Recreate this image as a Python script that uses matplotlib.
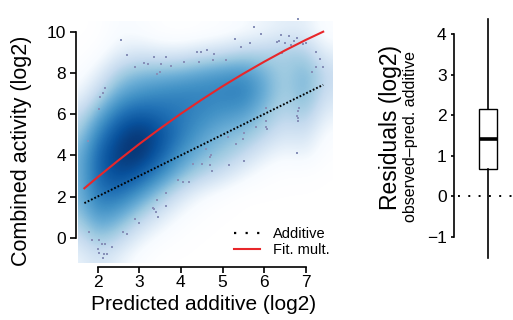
import numpy as np
import matplotlib
matplotlib.use('Agg')
import matplotlib.pyplot as plt
from matplotlib.colors import LinearSegmentedColormap
from matplotlib.lines import Line2D

plt.rcParams['font.family'] = ['Liberation Sans', 'DejaVu Sans']

# smoothed density (0 = white, 1 = darkest blue)
dens_x = [1.5, 2.0, 2.5, 3.0, 3.5, 4.0, 4.5, 5.0, 5.5, 6.0, 6.5, 7.0, 7.5]
dens_y = [-1, 0, 1, 2, 3, 4, 5, 6, 7, 8, 9, 10]
dens = [
    [0.15, 0.28, 0.18, 0.06, 0.00, 0.00, 0.00, 0.00, 0.00, 0.00, 0.00, 0.00, 0.00],
    [0.28, 0.48, 0.38, 0.20, 0.08, 0.02, 0.00, 0.00, 0.00, 0.00, 0.00, 0.00, 0.00],
    [0.42, 0.64, 0.57, 0.40, 0.24, 0.10, 0.03, 0.00, 0.00, 0.00, 0.00, 0.00, 0.00],
    [0.50, 0.76, 0.76, 0.62, 0.44, 0.26, 0.12, 0.05, 0.00, 0.00, 0.00, 0.00, 0.00],
    [0.50, 0.82, 0.92, 0.85, 0.68, 0.50, 0.38, 0.28, 0.15, 0.06, 0.02, 0.02, 0.00],
    [0.50, 0.82, 0.97, 1.00, 0.85, 0.65, 0.52, 0.45, 0.35, 0.20, 0.12, 0.18, 0.03],
    [0.40, 0.72, 0.92, 1.00, 0.90, 0.75, 0.62, 0.52, 0.48, 0.38, 0.25, 0.30, 0.08],
    [0.30, 0.55, 0.78, 0.85, 0.80, 0.75, 0.70, 0.65, 0.62, 0.48, 0.35, 0.45, 0.18],
    [0.12, 0.35, 0.58, 0.66, 0.70, 0.72, 0.72, 0.72, 0.75, 0.58, 0.40, 0.55, 0.28],
    [0.05, 0.18, 0.42, 0.50, 0.52, 0.55, 0.60, 0.64, 0.66, 0.55, 0.40, 0.55, 0.32],
    [0.00, 0.05, 0.20, 0.25, 0.22, 0.22, 0.28, 0.32, 0.38, 0.38, 0.42, 0.42, 0.18],
    [0.00, 0.00, 0.10, 0.08, 0.02, 0.00, 0.02, 0.05, 0.10, 0.15, 0.20, 0.20, 0.05],
]

# sparse points drawn on top
pts_x = [2.56, 2.70, 2.90, 3.11, 3.21, 3.35, 3.63, 3.52, 3.76, 3.50, 3.42, 4.08, 4.38, 4.48,
         4.43, 2.18, 2.12, 2.06, 2.02, 6.82, 5.76, 5.93, 5.30, 5.67, 5.44, 4.62, 4.80, 4.76,
         5.09, 6.41, 6.60, 6.32, 6.36, 6.50, 6.65, 6.72, 6.80, 6.93, 7.01, 6.42, 7.25, 7.34,
         7.42, 7.25, 7.14, 6.83, 6.81, 6.79, 6.81, 6.81, 6.04, 6.05, 5.80, 6.04, 6.08, 5.52,
         5.14, 5.50, 5.33, 6.80, 4.73, 4.70, 5.52, 5.16, 4.69, 4.75, 4.60, 1.76, 4.28, 4.51,
         3.92, 4.04, 4.19, 3.64, 3.43, 3.64, 3.32, 3.35, 3.40, 3.46, 2.90, 3.00, 2.60, 2.70,
         1.78, 1.86, 2.04, 2.10, 2.18, 2.34, 2.00, 2.04, 2.16, 2.22, 2.12]
pts_y = [9.60, 8.87, 8.30, 8.50, 8.42, 8.76, 8.76, 8.42, 8.33, 8.06, 7.95, 8.54, 9.03, 9.03,
         8.54, 7.25, 7.01, 6.82, 6.23, 10.62, 10.21, 9.89, 9.63, 9.44, 9.24, 9.11, 8.90, 8.64,
         8.63, 9.84, 9.79, 9.51, 9.55, 9.44, 9.35, 9.56, 9.71, 9.39, 9.44, 8.98, 9.03, 8.67,
         8.30, 8.30, 8.06, 6.31, 6.15, 5.91, 5.83, 5.67, 6.30, 5.68, 5.39, 5.36, 5.28, 5.10,
         4.87, 4.78, 4.53, 4.13, 4.01, 3.92, 3.72, 3.51, 3.54, 3.24, 4.29, 4.69, 3.59, 3.59,
         2.82, 2.70, 2.70, 2.15, 1.81, 1.54, 1.44, 1.41, 1.25, 1.02, 0.92, 0.70, 0.28, 0.17,
         0.29, -0.13, -0.11, -0.32, -0.32, -0.44, -0.53, -0.73, -0.81, -0.78, -1.00]

add_x = [1.68, 7.42]
add_y = [1.68, 7.42]

fit_x = [1.68, 2.0, 2.5, 3.0, 3.5, 4.0, 4.5, 5.0, 5.5, 6.0, 6.5, 7.0, 7.42]
fit_y = [2.40, 2.94, 3.76, 4.55, 5.30, 6.02, 6.70, 7.35, 7.96, 8.54, 9.09, 9.60, 10.0]

# residual box: observed - predicted additive
res_stats = dict(med=1.43, q1=0.67, q3=2.17, whislo=-1.53, whishi=4.39, fliers=[])

W, H = 513, 320
fig = plt.figure(figsize=(W / 100, H / 100), dpi=100)

blues = ['#FFFFFF', '#F7FBFF', '#DEEBF7', '#C6DBEF', '#9ECAE1', '#6BAED6',
         '#4292C6', '#2171B5', '#08519C', '#08306B']
cmap = LinearSegmentedColormap.from_list('ss', blues)

ax = fig.add_axes([78 / W, 1 - 263 / H, (333 - 78) / W, (263 - 12) / H])
ax.imshow(np.array(dens), origin='lower', cmap=cmap, vmin=0, vmax=1,
          extent=[dens_x[0] - 0.25, dens_x[-1] + 0.25, dens_y[0] - 0.5, dens_y[-1] + 0.5],
          interpolation='bicubic', aspect='auto', zorder=0)
ax.plot(pts_x, pts_y, 's', ms=1.9, color='#8790b8', mew=0, zorder=2)
ax.plot(add_x, add_y, color='black', lw=1.4, dashes=(0.9, 1.0), zorder=3)
ax.plot(fit_x, fit_y, color='#e8262a', lw=1.5, zorder=4)
ax.set_xlim(1.526, 7.656)
ax.set_ylim(-1.228, 10.956)
for s in ['top', 'right']:
    ax.spines[s].set_visible(False)
ax.spines['left'].set_position(('outward', 1.5))
ax.spines['bottom'].set_position(('outward', 2.7))
ax.spines['left'].set_bounds(0, 10)
ax.spines['bottom'].set_bounds(2, 7)
for s in ['left', 'bottom']:
    ax.spines[s].set_linewidth(1.2)
ax.set_xticks(np.arange(2, 8, 1))
ax.set_yticks(np.arange(0, 11, 2))
ax.tick_params(axis='both', labelsize=12.5, width=1.2, length=4.5, pad=2.5)
ax.tick_params(axis='x', pad=1.5)

handles = [Line2D([], [], color='black', lw=1.6, dashes=(1.0, 4.2)),
           Line2D([], [], color='#e8262a', lw=1.5)]
leg = ax.legend(handles, ['Additive', 'Fit. mult.'], loc='lower right',
                bbox_to_anchor=(1.04, -0.03), frameon=False, fontsize=10.5,
                handlelength=1.8, handletextpad=0.9, labelspacing=0.15)

fig.text(22 / W, 1 - 151 / H, 'Combined activity (log2)', rotation=90, ha='center', va='center',
         fontsize=15.5)
fig.text(204 / W, 1 - 304 / H, 'Predicted additive (log2)', ha='center', va='center', fontsize=15)

# residuals panel
ax2 = fig.add_axes([458 / W, 1 - 268.2 / H, 60 / W, (268.2 - 8.8) / H])
ax2.bxp([res_stats], positions=[1], widths=0.567, showcaps=False, patch_artist=True,
        boxprops=dict(facecolor='white', edgecolor='black', linewidth=1.0),
        medianprops=dict(color='black', linewidth=2.6, solid_capstyle='butt'),
        whiskerprops=dict(color='black', linewidth=1.2))
ax2.axhline(0, color='black', lw=1.4, dashes=(1.0, 4.3), zorder=0)
ax2.set_xlim(0, 2)
ax2.set_ylim(-1.77, 4.63)
for s in ['top', 'right', 'bottom']:
    ax2.spines[s].set_visible(False)
ax2.spines['left'].set_position(('outward', 2.7))
ax2.spines['left'].set_bounds(-1, 4)
ax2.spines['left'].set_linewidth(1.2)
ax2.set_xticks([])
ax2.set_yticks(np.arange(-1, 5, 1))
ax2.set_yticklabels(['\u22121', '0', '1', '2', '3', '4'])
ax2.tick_params(axis='y', labelsize=12.5, width=1.2, length=2.5, pad=3)
fig.text(390 / W, 1 - 127 / H, 'Residuals (log2)', rotation=90, ha='center', va='center',
         fontsize=16.5)
fig.text(410 / W, 1 - 137 / H, 'observed\u2013pred. additive', rotation=90, ha='center',
         va='center', fontsize=11.5)

fig.savefig('out.png', dpi=100)
